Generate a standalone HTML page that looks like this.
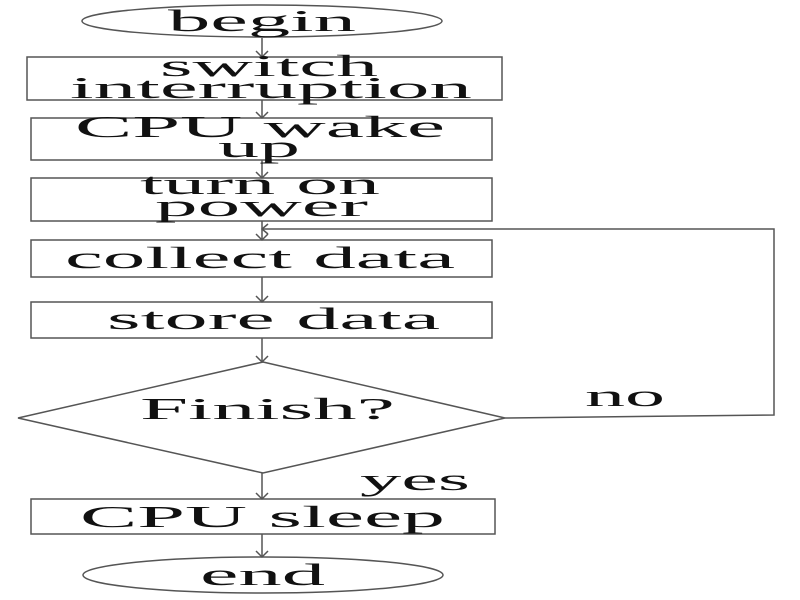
<!DOCTYPE html>
<html><head><meta charset="utf-8"><style>
html,body{margin:0;padding:0;background:#fff;width:800px;height:600px;overflow:hidden}
text{font-family:"Liberation Serif",serif;font-size:31px;fill:#111}
</style></head><body>
<svg width="800" height="600" viewBox="0 0 800 600" xmlns="http://www.w3.org/2000/svg">
<g fill="none" stroke="#555" stroke-width="1.5">
<ellipse cx="262" cy="21" rx="180" ry="16"/>
<rect x="27" y="57" width="475" height="43"/>
<rect x="31" y="118" width="461" height="42"/>
<rect x="31" y="178" width="461" height="43"/>
<rect x="31" y="240" width="461" height="37"/>
<rect x="31" y="302" width="461" height="36"/>
<polygon points="263,362 505,418 263,473 18,418"/>
<rect x="31" y="499" width="464" height="35"/>
<ellipse cx="263" cy="575" rx="180" ry="18"/>
<path d="M262 38V57M262 100V118M262 160V178M262 221V240M262 277V302M262 338V362M262 473V499M262 534V557"/>
<path d="M505 418L774 415V229H262"/>
<path d="M256 51L262 57L268 51M256 112L262 118L268 112M256 172L262 178L268 172M256 234L262 240L268 234M256 296L262 302L268 296M256 356L262 362L268 356M256 493L262 499L268 493M256 551L262 557L268 551M268 224L262 229L268 234"/>
</g>
<text x="168" y="31" textLength="188" lengthAdjust="spacingAndGlyphs">begin</text>
<text x="160" y="76" textLength="218" lengthAdjust="spacingAndGlyphs">switch</text>
<text x="70" y="98" textLength="402" lengthAdjust="spacingAndGlyphs">interruption</text>
<text x="75" y="137" textLength="370" lengthAdjust="spacingAndGlyphs">CPU wake</text>
<text x="218" y="157" textLength="82" lengthAdjust="spacingAndGlyphs">up</text>
<text x="140" y="194" textLength="240" lengthAdjust="spacingAndGlyphs">turn on</text>
<text x="155" y="216" textLength="213" lengthAdjust="spacingAndGlyphs">power</text>
<text x="65" y="268" textLength="390" lengthAdjust="spacingAndGlyphs">collect data</text>
<text x="107" y="329" textLength="333" lengthAdjust="spacingAndGlyphs">store data</text>
<text x="140" y="419" textLength="255" lengthAdjust="spacingAndGlyphs">Finish?</text>
<text x="585" y="406" textLength="80" lengthAdjust="spacingAndGlyphs">no</text>
<text x="360" y="490" textLength="110" lengthAdjust="spacingAndGlyphs">yes</text>
<text x="80" y="527" textLength="365" lengthAdjust="spacingAndGlyphs">CPU sleep</text>
<text x="200" y="585" textLength="125" lengthAdjust="spacingAndGlyphs">end</text>
</svg>
</body></html>
